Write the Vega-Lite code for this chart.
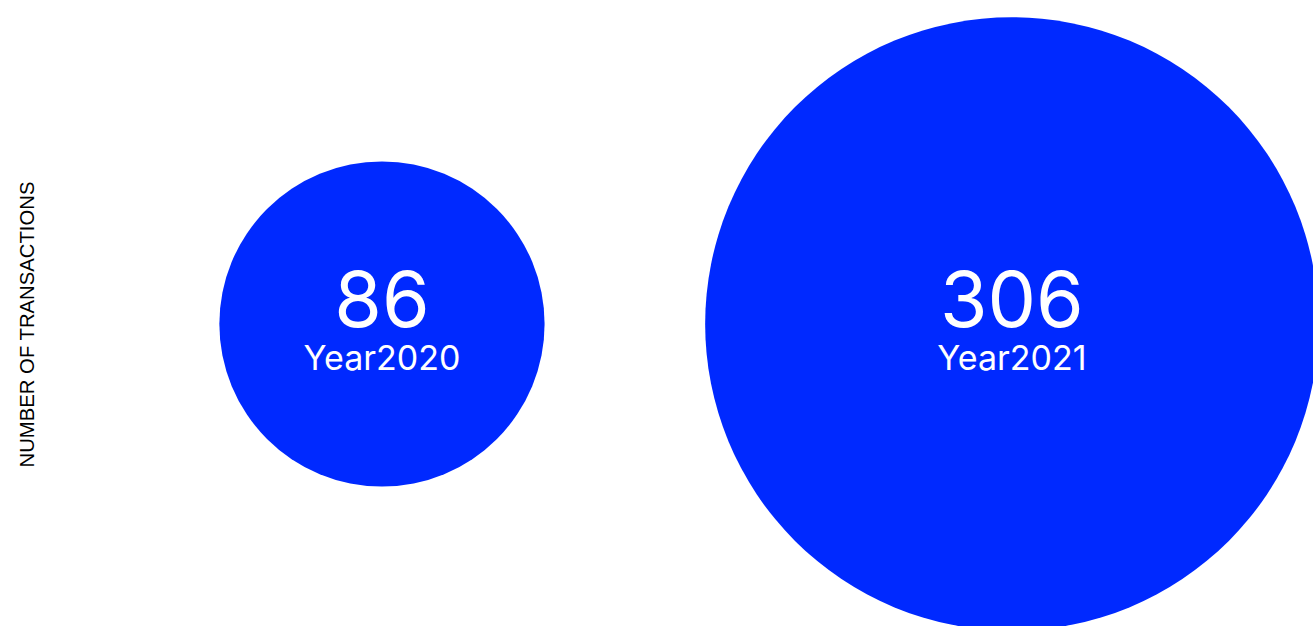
{
  "$schema": "https://vega.github.io/schema/vega-lite/v6.json",
  "width": 1263,
  "height": 604,
  "autosize": {"type": "none"},
  "padding": {"left": 50, "top": 22, "right": 0, "bottom": 0},
  "background": "white",
  "config": {"view": {"stroke": null}},
  "data": {"values": [
    {"year": 2020, "transactions": 86, "label": "Year2020"},
    {"year": 2021, "transactions": 306, "label": "Year2021"}
  ]},
  "encoding": {
    "x": {"field": "year", "type": "quantitative", "scale": {"domain": [2019.473, 2021.478]}, "axis": null},
    "y": {"datum": 0, "type": "quantitative", "scale": {"domain": [-1, 1]},
      "axis": {"title": "NUMBER OF TRANSACTIONS", "labels": false, "ticks": false, "domain": false, "grid": false,
        "titleFont": "Liberation Sans", "titleFontSize": 20.3, "titleFontWeight": "normal", "titleColor": "#000000",
        "titleX": -17, "titleBaseline": "alphabetic"}}
  },
  "layer": [
    {"mark": {"type": "circle", "color": "#0029ff", "opacity": 1, "strokeWidth": 0},
     "encoding": {"size": {"field": "transactions", "type": "quantitative", "scale": {"domain": [0, 306], "range": [0, 376380]}, "legend": null}}},
    {"mark": {"type": "text", "color": "white", "font": "Inter", "fontSize": 77, "baseline": "alphabetic", "dy": 3},
     "encoding": {"text": {"field": "transactions", "type": "quantitative"}}},
    {"mark": {"type": "text", "color": "white", "font": "Inter", "fontSize": 34, "baseline": "alphabetic", "dy": 46},
     "encoding": {"text": {"field": "label", "type": "nominal"}}}
  ]
}
